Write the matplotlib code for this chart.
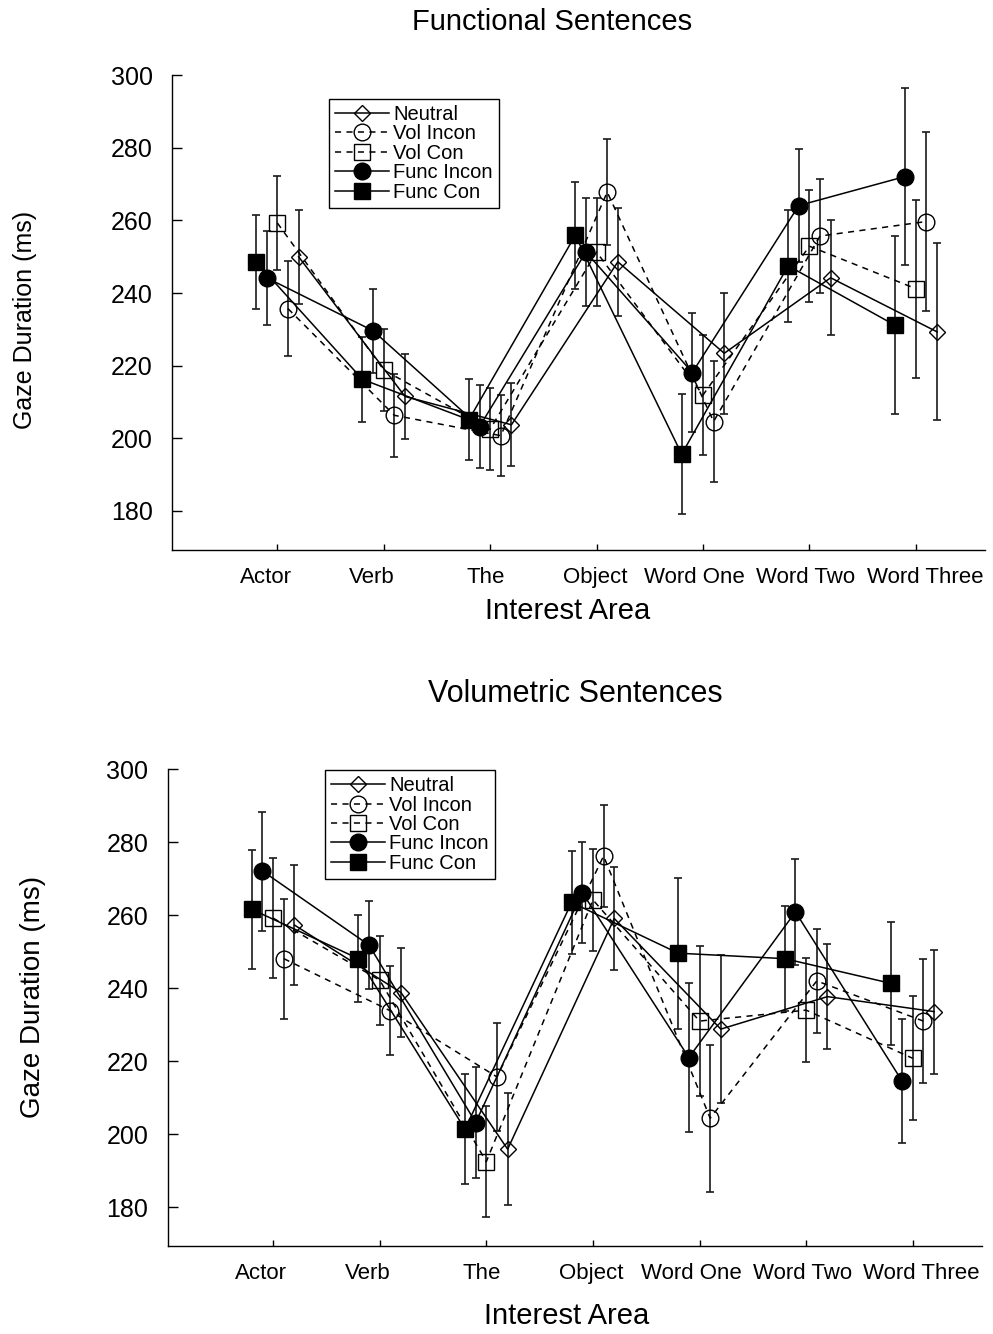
import matplotlib
matplotlib.use("Agg")
import matplotlib.pyplot as plt
import numpy as np

plt.rcParams['font.family'] = ['Liberation Sans', 'DejaVu Sans']

categories = ["Actor", "Verb", "The", "Object", "Word One", "Word Two", "Word Three"]
series_names = ["Neutral", "Vol Incon", "Vol Con", "Func Incon", "Func Con"]
y_ticks = [180, 200, 220, 240, 260, 280, 300]

# Functional sentences: means and error (half-width)
func_neutral = [250.0, 211.5, 203.7, 248.6, 223.4, 244.2, 229.3]
func_neutral_err = [13.0, 11.6, 11.4, 14.8, 16.6, 15.8, 24.4]
func_volincon = [235.7, 206.3, 200.7, 267.8, 204.6, 255.7, 259.7]
func_volincon_err = [13.0, 11.5, 11.2, 14.7, 16.6, 15.6, 24.6]
func_volcon = [259.3, 218.8, 202.5, 251.3, 211.9, 252.9, 241.2]
func_volcon_err = [13.0, 11.2, 11.3, 14.8, 16.6, 15.5, 24.5]
func_funcincon = [244.2, 229.6, 203.2, 251.3, 218.1, 264.1, 272.1]
func_funcincon_err = [13.0, 11.6, 11.5, 14.8, 16.4, 15.6, 24.4]
func_funccon = [248.6, 216.2, 205.1, 255.9, 195.6, 247.5, 231.2]
func_funccon_err = [13.0, 11.6, 11.2, 14.7, 16.6, 15.5, 24.4]

# Volumetric sentences
vol_neutral = [257.3, 238.8, 195.9, 259.1, 228.8, 237.7, 233.6]
vol_neutral_err = [16.4, 12.2, 15.3, 14.2, 20.3, 14.4, 17.0]
vol_volincon = [248.1, 233.8, 215.7, 276.2, 204.4, 242.0, 231.0]
vol_volincon_err = [16.4, 12.2, 14.8, 13.9, 20.1, 14.3, 17.0]
vol_volcon = [259.2, 242.2, 192.5, 264.2, 231.0, 234.0, 220.8]
vol_volcon_err = [16.5, 12.2, 15.3, 14.0, 20.6, 14.2, 17.0]
vol_funcincon = [272.1, 251.8, 203.2, 266.2, 221.0, 260.9, 214.6]
vol_funcincon_err = [16.3, 12.0, 15.2, 13.9, 20.5, 14.5, 16.9]
vol_funccon = [261.6, 248.1, 201.4, 263.5, 249.6, 248.1, 241.3]
vol_funccon_err = [16.3, 12.0, 15.0, 14.0, 20.7, 14.3, 16.9]

styles = {
    "Neutral":    dict(marker='D', ms=8.5, ls='-', filled=False, offset=0.2),
    "Vol Incon":  dict(marker='o', ms=12, ls=(0, (4, 3.5)), filled=False, offset=0.1),
    "Vol Con":    dict(marker='s', ms=12, ls=(0, (4, 3.5)), filled=False, offset=0.0),
    "Func Incon": dict(marker='o', ms=12, ls='-', filled=True, offset=-0.1),
    "Func Con":   dict(marker='s', ms=12, ls='-', filled=True, offset=-0.2),
}

# horizontal nudges (points) of the category labels, as set in the original
label_nudge = [-8.5, -8.5, -3, -1, -6, -2.5, 6.5]

fig = plt.figure(figsize=(9.93, 13.34), dpi=100)

def draw(ax, data, title, title_xy, title_fs, xlabel_xy, ylabel_xy, ylabel_fs,
         legend_anchor, ylim_low):
    x = np.arange(len(categories))
    handles = []
    for name, (vals, errs) in zip(series_names, data):
        st = styles[name]
        xs = x + st['offset']
        ax.errorbar(xs, vals, yerr=errs, fmt='none', ecolor='#1a1a1a',
                    elinewidth=1.2, capsize=2.6, capthick=1.2, zorder=2)
        h, = ax.plot(xs, vals, color='black', lw=1.1, ls=st['ls'],
                     marker=st['marker'], ms=st['ms'],
                     mfc='black' if st['filled'] else 'none',
                     mec='black', mew=1.0, zorder=3, label=name)
        handles.append(h)
    ax.set_xlim(-0.99, 6.65)
    ax.set_ylim(ylim_low, 300)
    ax.set_yticks(y_ticks)
    ax.set_xticks(x)
    ax.set_xticklabels([])
    for i, (cat, dx) in enumerate(zip(categories, label_nudge)):
        ax.annotate(cat, xy=(i, 0), xycoords=('data', 'axes fraction'),
                    xytext=(dx, -12), textcoords='offset points',
                    ha='center', va='top', fontsize=16, annotation_clip=False)
    for s in ['top', 'right']:
        ax.spines[s].set_visible(False)
    for s in ['left', 'bottom']:
        ax.spines[s].set_linewidth(1.0)
    ax.tick_params(axis='y', direction='in', length=7, width=1.0, labelsize=18, pad=14)
    ax.tick_params(axis='x', direction='in', length=4, width=1.0)
    fig.text(title_xy[0], title_xy[1], title, ha='center', va='center', fontsize=title_fs)
    fig.text(xlabel_xy[0], xlabel_xy[1], "Interest Area", ha='center', va='center', fontsize=21)
    ax.set_ylabel("Gaze Duration (ms)", fontsize=ylabel_fs, ha='center', va='center')
    ax.yaxis.set_label_coords(ylabel_xy[0], ylabel_xy[1], transform=fig.transFigure)
    leg = ax.legend(handles=handles, loc='upper left', bbox_to_anchor=legend_anchor,
                    fontsize=14.5, frameon=True, fancybox=False, edgecolor='black',
                    framealpha=1, numpoints=1, handlelength=2.7, handletextpad=0.2,
                    labelspacing=0.02, borderpad=0.3, borderaxespad=0)
    leg.get_frame().set_linewidth(1.0)

ax1 = fig.add_axes([0.1732, 0.5877, 0.8187, 0.3559])
draw(ax1,
     [(func_neutral, func_neutral_err), (func_volincon, func_volincon_err),
      (func_volcon, func_volcon_err), (func_funcincon, func_funcincon_err),
      (func_funccon, func_funccon_err)],
     "Functional Sentences", (552/993, 1-22/1334), 21, (568/993, 1-611/1334),
     (25/993, 1-320/1334), 18, (0.193, 0.950), 169.2)

ax2 = fig.add_axes([0.1688, 0.0660, 0.8201, 0.3574])
draw(ax2,
     [(vol_neutral, vol_neutral_err), (vol_volincon, vol_volincon_err),
      (vol_volcon, vol_volcon_err), (vol_funcincon, vol_funcincon_err),
      (vol_funccon, vol_funccon_err)],
     "Volumetric Sentences", (575/993, 1-694/1334), 22, (567/993, 1-1316/1334),
     (33/993, 1-997/1334), 20, (0.193, 0.998), 169.4)

fig.savefig("out.png", dpi=100)
